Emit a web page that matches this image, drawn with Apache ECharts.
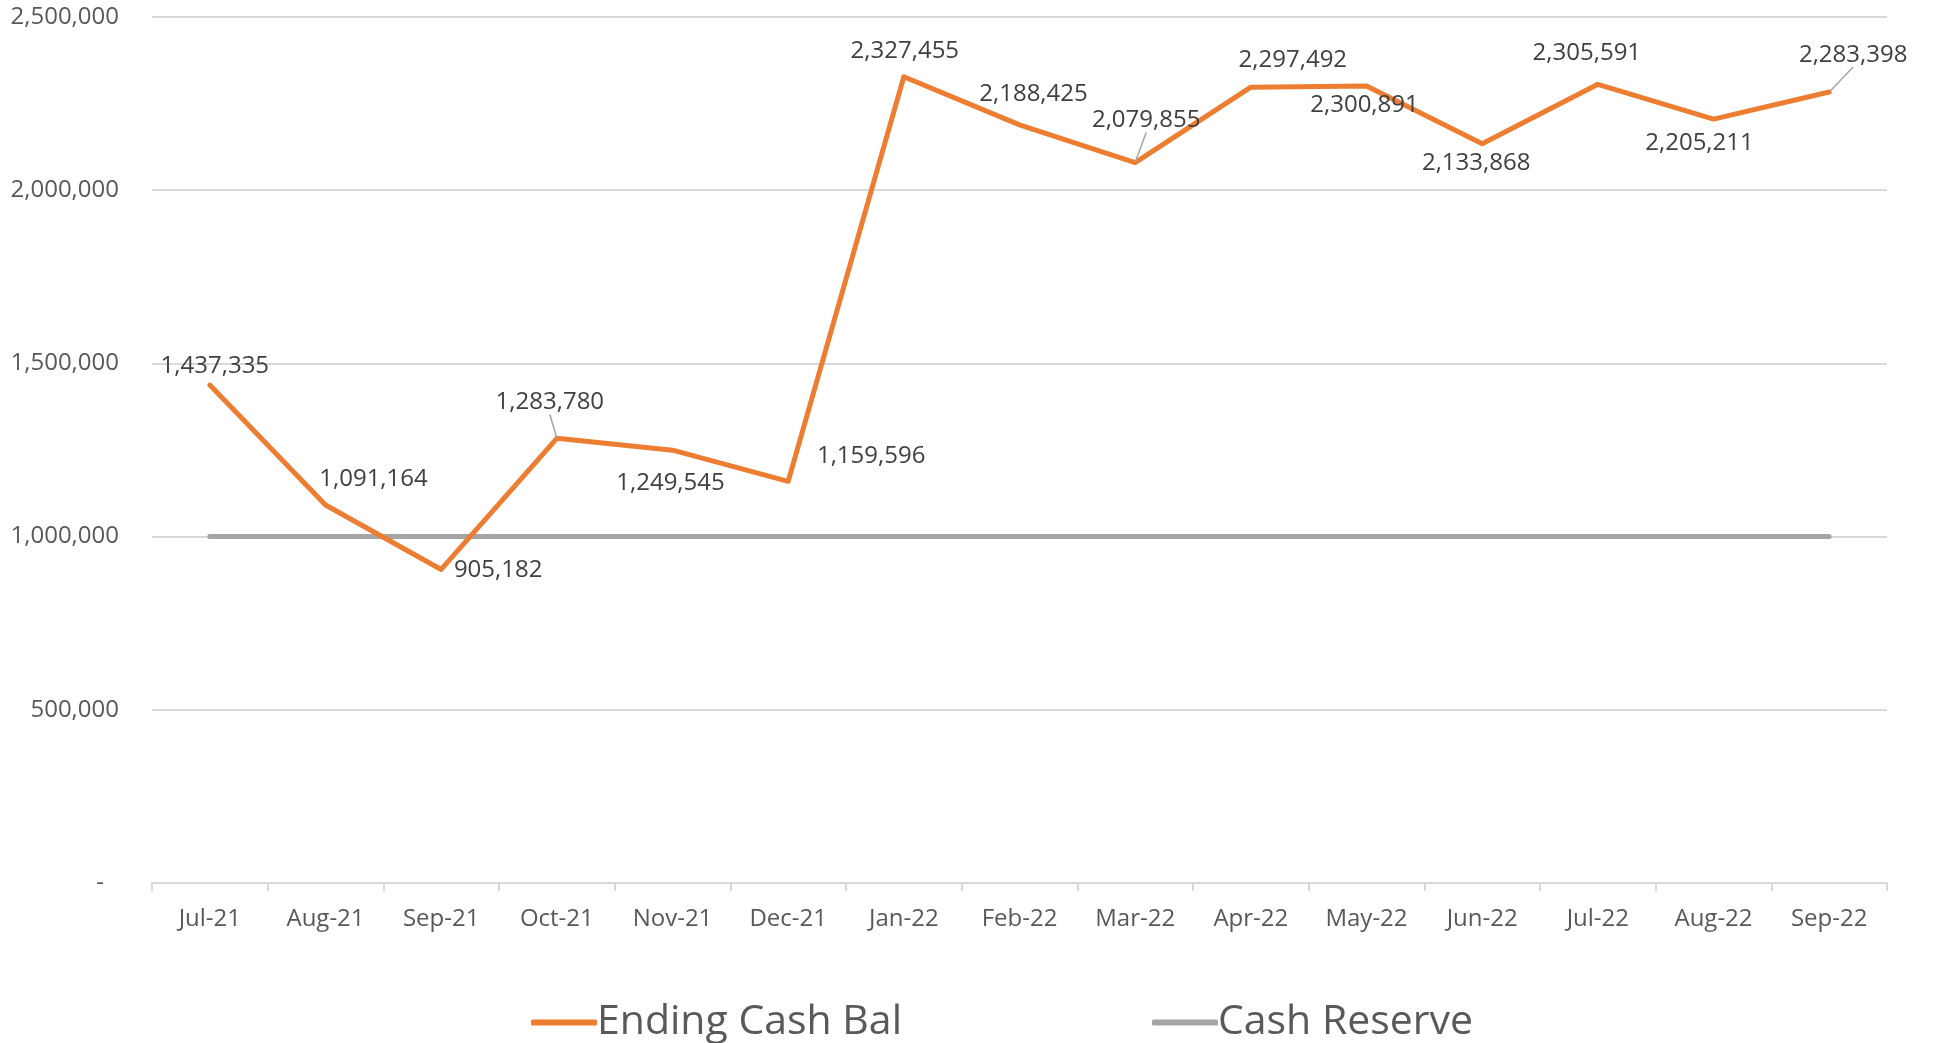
<!DOCTYPE html>
<html>
<head>
<meta charset="utf-8">
<script src="https://cdn.jsdelivr.net/npm/echarts@6/dist/echarts.min.js"></script>
<style>
html,body{margin:0;padding:0;background:#fff;}
#chart{width:1934px;height:1043px;}
</style>
</head>
<body>
<div id="chart"></div>
<script>
const categories = ['Jul-21','Aug-21','Sep-21','Oct-21','Nov-21','Dec-21','Jan-22','Feb-22','Mar-22','Apr-22','May-22','Jun-22','Jul-22','Aug-22','Sep-22'];
const endingCashBal = [1437335,1091164,905182,1283780,1249545,1159596,2327455,2188425,2079855,2297492,2300891,2133868,2305591,2205211,2283398];
const cashReserve = [1000000,1000000,1000000,1000000,1000000,1000000,1000000,1000000,1000000,1000000,1000000,1000000,1000000,1000000,1000000];
const seriesNames = ['Ending Cash Bal','Cash Reserve'];

// label placement (offset from point, px) and which labels get a leader line
const labelOffsets = [[5,-19],[48,-26],[57,1],[-7,-36],[-2,33],[83,-25],[1,-26],[14,-31],[11,-42],[42,-27],[-2,19],[-6,19],[-11,-31],[-14,24],[24,-37]];
const leaderLines = [false,false,false,true,false,false,false,false,true,false,false,false,false,false,true];

const FONT = '"Open Sans", "Liberation Sans", sans-serif';
const fmt = v => v.toLocaleString('en-US');

const chart = echarts.init(document.getElementById('chart'));
chart.setOption({
  animation: false,
  backgroundColor: '#fff',
  textStyle: {fontFamily: FONT},
  grid: {left: 152, right: 47, top: 17, bottom: 160, containLabel: false},
  legend: {
    data: seriesNames,
    left: 526, top: 997,
    itemWidth: 66, itemHeight: 6, itemGap: 250,
    icon: 'roundRect',
    textStyle: {fontSize: 41, color: '#595959', fontFamily: FONT, padding: [0,0,0,-5]}
  },
  xAxis: {
    type: 'category',
    data: categories,
    boundaryGap: true,
    axisLine: {lineStyle: {color: '#d9d9d9', width: 2}},
    axisTick: {show: true, length: 8, lineStyle: {color: '#d9d9d9', width: 2}},
    axisLabel: {fontSize: 24, color: '#595959', margin: 24, fontFamily: FONT}
  },
  yAxis: {
    type: 'value',
    min: 0, max: 2500000, interval: 500000,
    axisLine: {show: false},
    axisTick: {show: false},
    splitLine: {lineStyle: {color: '#d9d9d9', width: 2}},
    axisLabel: {
      fontSize: 24, color: '#595959', margin: 33, fontFamily: FONT,
      formatter: v => v === 0 ? '{d|-}' : fmt(v),
      rich: {d: {fontSize: 24, color: '#595959', padding: [0, 15, 0, 0], fontFamily: FONT}}
    }
  },
  series: [
    {
      name: seriesNames[0],
      type: 'line',
      data: endingCashBal.map((v, i) => ({
        value: v,
        labelLine: {show: leaderLines[i], lineStyle: {color: '#A5A5A5', width: 1.5}, length2: 0}
      })),
      symbol: 'circle',
      symbolSize: 1,
      showSymbol: true,
      lineStyle: {color: '#ED7D31', width: 5, cap: 'round', join: 'round'},
      itemStyle: {color: '#ED7D31'},
      label: {
        show: true,
        position: 'inside',
        align: 'center',
        verticalAlign: 'middle',
        fontSize: 24,
        color: '#404040',
        fontFamily: FONT,
        formatter: p => fmt(p.value)
      },
      labelLayout: p => ({dx: labelOffsets[p.dataIndex][0], dy: labelOffsets[p.dataIndex][1]}),
      z: 3
    },
    {
      name: seriesNames[1],
      type: 'line',
      data: cashReserve,
      symbol: 'none',
      lineStyle: {color: '#A5A5A5', width: 5, cap: 'round'},
      itemStyle: {color: '#A5A5A5'},
      z: 2
    }
  ]
});
</script>
</body>
</html>
